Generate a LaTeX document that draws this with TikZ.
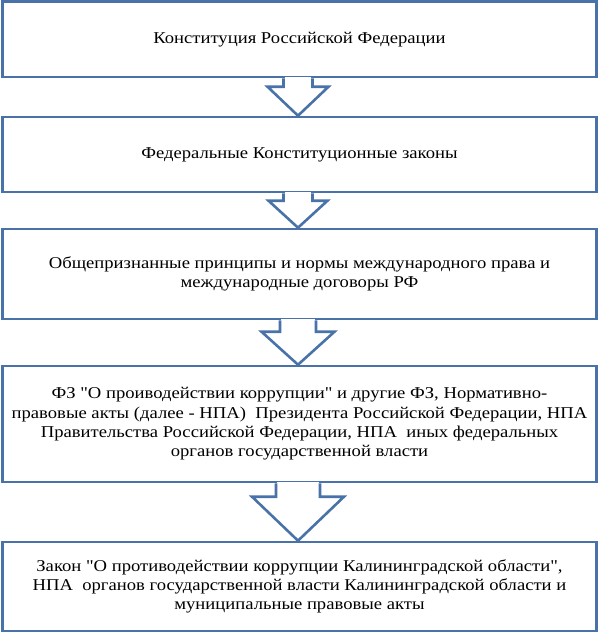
\documentclass[tikz,border=0pt]{standalone}
\usepackage{fontspec}
\setmainfont{Liberation Serif}[FakeStretch=1.13, Ligatures=TeXOff]
\usetikzlibrary{calc}
\definecolor{frame}{RGB}{73,114,168}
\tikzset{
  box/.style={draw=frame, line width=2.6pt, fill=white, minimum width=594pt,
    align=center, inner sep=0pt, font=\fontsize{16.5}{19.3}\selectfont},
  arr/.style={draw=frame, line width=2.6pt, line join=miter},
}
\newcommand\hollowarr[5]{%
  \coordinate (s) at (#1.south -| ax);
  \coordinate (t) at (#2.north -| ax);
  \fill[white] ($(s)+(-#3+1.4,-1.6)$) rectangle ($(s)+(#3-1.4,1.6)$);
  \draw[arr] ($(s)+(-#3,0)$) -- ($(t)+(-#3,-#5)$) -- ($(t)+(-#4,-#5)$) -- (t)
    -- ($(t)+(#4,-#5)$) -- ($(t)+(#3,-#5)$) -- ($(s)+(#3,0)$);
}
\begin{document}
\begin{tikzpicture}[x=1pt,y=-1pt]
\useasboundingbox (0,0) rectangle (601,633);
\coordinate (ax) at (298,0);
\node[box, minimum height=75.5pt] (b1) at (299.5,39.25) {Конституция Российской Федерации};
\node[box, minimum height=75pt] (b2) at (299.5,154.5) {Федеральные Конституционные законы};
\node[box, minimum height=90pt] (b3) at (299.5,274) {Общепризнанные принципы и нормы международного права и\\международные договоры РФ};
\node[box, minimum height=116pt] (b4) at (299.5,424) {ФЗ "О проиводействии коррупции" и другие ФЗ, Нормативно-\\правовые акты (далее - НПА)~ Президента Российской Федерации, НПА\\Правительства Российской Федерации, НПА~ иных федеральных\\органов государственной власти};
\node[box, minimum height=89pt] (b5) at (299.5,586.5) {Закон "О противодействии коррупции Калининградской области",\\НПА~ органов государственной власти Калининградской области и\\муниципальные правовые акты};
\hollowarr{b1}{b2}{14.5}{30.5}{29}
\hollowarr{b2}{b3}{14.5}{29.5}{27}
\hollowarr{b3}{b4}{18}{36.5}{33}
\hollowarr{b4}{b5}{22}{46}{44}
\end{tikzpicture}
\end{document}
